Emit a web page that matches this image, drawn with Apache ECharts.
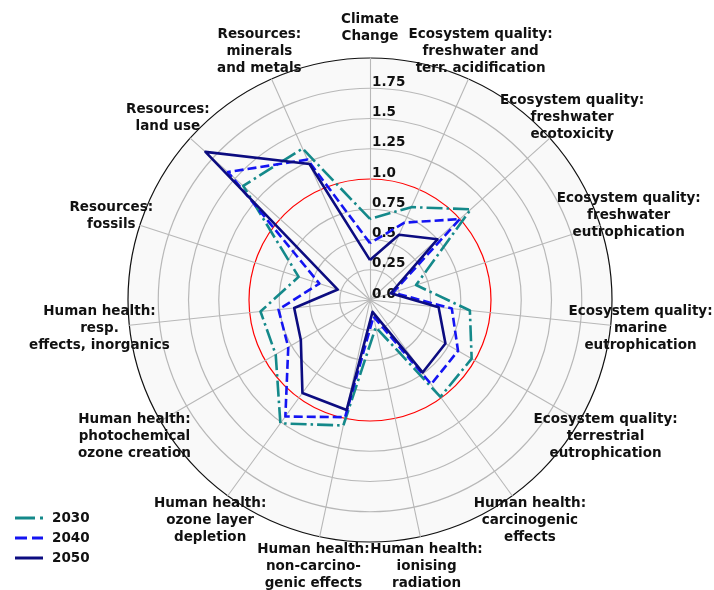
<!DOCTYPE html>
<html>
<head>
<meta charset="utf-8">
<script src="https://cdn.jsdelivr.net/npm/echarts@6/dist/echarts.min.js"></script>
<style>
html,body{margin:0;padding:0;background:#fff;}
#main{width:714px;height:590px;}
</style>
</head>
<body>
<div id="main"></div>
<script>
// ---- data ----
var categories = [
  'Climate\nChange',
  'Ecosystem quality:\nfreshwater and\nterr. acidification',
  'Ecosystem quality:\nfreshwater\necotoxicity',
  'Ecosystem quality:\nfreshwater\neutrophication',
  'Ecosystem quality:\nmarine\neutrophication',
  'Ecosystem quality:\nterrestrial\neutrophication',
  'Human health:\ncarcinogenic\neffects',
  'Human health:\nionising\nradiation',
  'Human health:\nnon-carcino-\ngenic effects',
  'Human health:\nozone layer\ndepletion',
  'Human health:\nphotochemical\nozone creation',
  'Human health:\nresp.\neffects, inorganics',
  'Resources:\nfossils',
  'Resources:\nland use',
  'Resources:\nminerals\nand metals'
];
var seriesNames = ['2030', '2040', '2050'];
var values2030 = [0.67, 0.84, 1.12, 0.40, 0.83, 0.97, 0.99, 0.23, 1.06, 1.26, 0.90, 0.91, 0.62, 1.41, 1.37];
var values2040 = [0.47, 0.70, 1.00, 0.20, 0.68, 0.84, 0.86, 0.14, 0.99, 1.19, 0.78, 0.76, 0.44, 1.58, 1.27];
var values2050 = [0.33, 0.59, 0.75, 0.18, 0.57, 0.72, 0.74, 0.10, 0.93, 0.95, 0.66, 0.63, 0.28, 1.83, 1.23];
var tickLabels = ['0.0', '0.25', '0.5', '0.75', '1.0', '1.25', '1.5', '1.75', ''];
var axisMin = 0, axisMax = 2, axisSplits = 8;

// ---- build (radar goes counter-clockwise, so reverse order after the first axis) ----
var order = [0];
for (var k = categories.length - 1; k >= 1; k--) order.push(k);
function reorder(arr) { return order.map(function (i) { return arr[i]; }); }

var indicators = reorder(categories).map(function (name, idx) {
  var ind = { name: name, min: axisMin, max: axisMax };
  if (idx === 0) ind.axisLabel = { show: true };
  return ind;
});

var colors = ['#14898a', '#1414f2', '#0c0c80'];
var dashes = [[16, 4, 2.5, 4], [9, 4], 'solid'];
var icons = [
  'path://M0,0h20v3h-20z M25,0h3v3h-3z',
  'path://M0,0h12v3h-12z M17,0h11v3h-11z',
  'path://M0,0h28v3h-28z'
];
var allValues = [values2030, values2040, values2050];

var series = seriesNames.map(function (nm, i) {
  return {
    name: nm,
    type: 'radar',
    symbol: 'none',
    z: 2 + i,
    itemStyle: { color: colors[i] },
    lineStyle: { color: colors[i], width: 2.6, type: dashes[i] },
    data: [{ value: reorder(allValues[i]), name: nm }]
  };
});

var chart = echarts.init(document.getElementById('main'), null, { renderer: 'canvas' });
chart.setOption({
  backgroundColor: '#ffffff',
  animation: false,
  legend: {
    orient: 'vertical',
    left: 10,
    top: 506,
    itemWidth: 28,
    itemHeight: 3,
    itemGap: 6,
    data: seriesNames.map(function (nm, i) { return { name: nm, icon: icons[i] }; }),
    textStyle: { fontFamily: 'DejaVu Sans', fontWeight: 'bold', fontSize: 13.5, color: '#111', padding: [0, 0, 0, 4] }
  },
  radar: {
    center: [370, 300],
    radius: 242,
    startAngle: 90,
    shape: 'circle',
    splitNumber: axisSplits,
    indicator: indicators,
    axisName: {
      color: '#111',
      fontFamily: 'DejaVu Sans',
      fontWeight: 'bold',
      fontSize: 13.5,
      lineHeight: 17,
      align: 'center',
      verticalAlign: 'middle'
    },
    nameGap: 30,
    axisLine: { lineStyle: { color: '#b8b8b8', width: 1.1 } },
    splitLine: {
      lineStyle: {
        color: ['#b8b8b8', '#b8b8b8', '#b8b8b8', '#b8b8b8', '#ff0000', '#b8b8b8', '#b8b8b8', '#b8b8b8', '#111111'],
        width: 1.2
      }
    },
    splitArea: { show: true, areaStyle: { color: ['#f9f9f9'] } },
    axisTick: { show: false },
    axisLabel: {
      show: false,
      color: '#111',
      fontFamily: 'DejaVu Sans',
      fontWeight: 'bold',
      fontSize: 13.5,
      lineHeight: 12,
      align: 'left',
      verticalAlign: 'middle',
      padding: [0, 0, 0, 10],
      formatter: function (v) {
        var idx = Math.round((v - axisMin) / ((axisMax - axisMin) / axisSplits));
        var t = tickLabels[idx] !== undefined ? tickLabels[idx] : '';
        return t ? t + '\n ' : '';
      }
    }
  },
  series: series
});
</script>
</body>
</html>
